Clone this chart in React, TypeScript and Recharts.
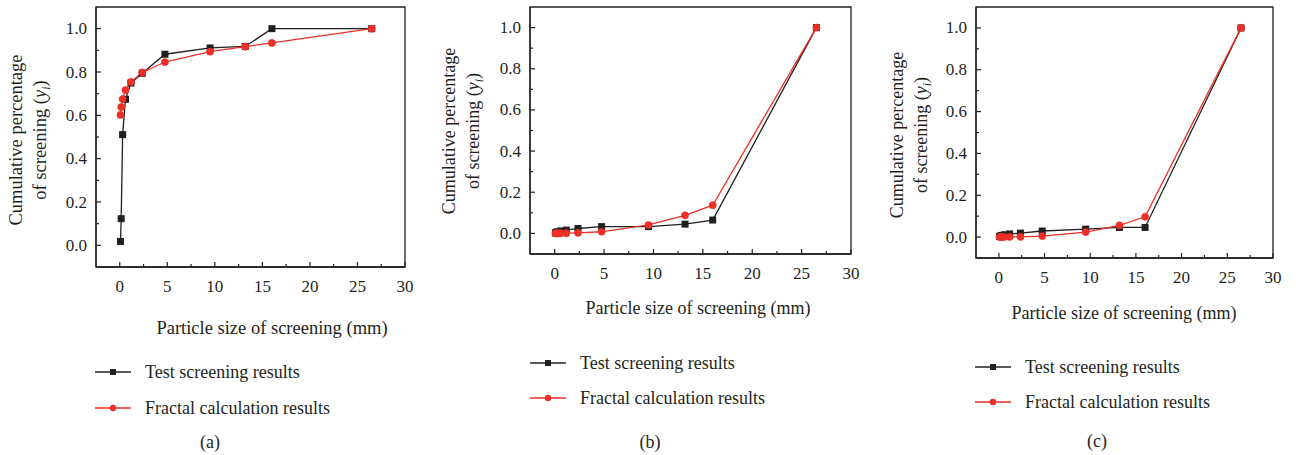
import React from 'react';
import { LineChart, Line, XAxis, YAxis, ReferenceArea } from 'recharts';

const sieveSizes = [0.075, 0.15, 0.3, 0.6, 1.18, 2.36, 4.75, 9.5, 13.2, 16, 26.5];

const testA = [0.018, 0.123, 0.511, 0.674, 0.749, 0.794, 0.882, 0.911, 0.918, 1.0, 1.0];
const fractalA = [0.602, 0.638, 0.675, 0.717, 0.754, 0.798, 0.846, 0.894, 0.917, 0.934, 1.0];
const testB = [0.002, 0.005, 0.008, 0.012, 0.016, 0.024, 0.033, 0.033, 0.045, 0.065, 1.0];
const fractalB = [0.0, 0.0, 0.0, 0.001, 0.001, 0.003, 0.008, 0.041, 0.088, 0.137, 1.0];
const testC = [0.003, 0.005, 0.008, 0.011, 0.015, 0.019, 0.029, 0.038, 0.046, 0.046, 1.0];
const fractalC = [0.0, 0.0, 0.0, 0.0, 0.001, 0.001, 0.005, 0.024, 0.056, 0.097, 1.0];

const xTicks = [0, 2.5, 5, 7.5, 10, 12.5, 15, 17.5, 20, 22.5, 25, 27.5, 30];
const yTicks = [0, 0.1, 0.2, 0.3, 0.4, 0.5, 0.6, 0.7, 0.8, 0.9, 1.0];
const seriesNames = ['Test screening results', 'Fractal calculation results'];
const captions = ['(a)', '(b)', '(c)'];

const BLACK = '#231f20';
const RED = '#ec2f27';
const FONT = '"Liberation Serif", "DejaVu Serif", serif';

const toPoints = (ys: number[]) => sieveSizes.map((x, i) => ({ x, y: ys[i] }));

// layout per panel (page px)
const panels = [
    { test: testA, fractal: fractalA, plot: [96, 405, 7, 267], title: [272, 328], titleFont: 18.5, yTitle: [22, 46, 140], yFont: 18.5, legend: [95, 372, 408], cap: [210, 442] },
    { test: testB, fractal: fractalB, plot: [530, 851, 7, 254], title: [698, 308], titleFont: 18, yTitle: [455, 479, 131], yFont: 18, legend: [530, 363, 398], cap: [650, 442] },
    { test: testC, fractal: fractalC, plot: [976, 1273, 7, 258], title: [1124, 313], titleFont: 18, yTitle: [903, 927, 135], yFont: 18, legend: [975, 367, 402], cap: [1097, 441] },
];

const XTick = (props: any) => {
    const { x, y, payload } = props;
    const major = payload.value % 5 === 0;
    return (
        <g>
            <line x1={x} x2={x} y1={y} y2={y - (major ? 5 : 3)} stroke={BLACK} strokeWidth={1.2} />
            {major && (
                <text x={x} y={y + 19} textAnchor="middle" dominantBaseline="central" fontSize={17} fontFamily={FONT} fill={BLACK}>
                    {payload.value}
                </text>
            )}
        </g>
    );
};

const YTick = (props: any) => {
    const { x, y, payload } = props;
    const major = Math.round(payload.value * 10) % 2 === 0;
    return (
        <g>
            <line x1={x} x2={x + (major ? 5 : 3)} y1={y} y2={y} stroke={BLACK} strokeWidth={1.2} />
            {major && (
                <text x={x - 9} y={y} textAnchor="end" dominantBaseline="central" fontSize={17} fontFamily={FONT} fill={BLACK}>
                    {payload.value.toFixed(1)}
                </text>
            )}
        </g>
    );
};

const SquareDot = (props: any) => {
    const { cx, cy, index } = props;
    if (cx == null || cy == null) return null;
    return <rect key={`sq-${index}`} x={cx - 3.5} y={cy - 3.5} width={7} height={7} fill={BLACK} />;
};

const Panel = ({ cfg }: { cfg: typeof panels[number] }) => {
    const [pl, pr, pt, pb] = cfg.plot;
    const L = pl - 96;
    const W = pr + 15 - L;
    const H = 345;
    const [b1, b2, cy] = cfg.yTitle;
    return (
        <div style={{ position: 'absolute', left: L, top: 0 }}>
            <LineChart width={W} height={H} margin={{ top: pt, left: 56, right: 15, bottom: H - pb - 30 }}>
                <XAxis
                    dataKey="x"
                    type="number"
                    domain={[-2.5, 30]}
                    ticks={xTicks}
                    interval={0}
                    allowDataOverflow
                    height={30}
                    tickSize={0}
                    tickMargin={0}
                    tickLine={false}
                    tick={<XTick />}
                    axisLine={{ stroke: BLACK, strokeWidth: 1.3 }}
                />
                <YAxis
                    type="number"
                    domain={[-0.1, 1.1]}
                    ticks={yTicks}
                    interval={0}
                    allowDataOverflow
                    width={40}
                    tickSize={0}
                    tickMargin={0}
                    tickLine={false}
                    tick={<YTick />}
                    axisLine={{ stroke: BLACK, strokeWidth: 1.3 }}
                />
                <ReferenceArea x1={-2.5} x2={30} y1={-0.1} y2={1.1} fill="none" stroke={BLACK} strokeWidth={1.3} ifOverflow="visible" />
                <Line data={toPoints(cfg.test)} dataKey="y" stroke={BLACK} strokeWidth={1.3} dot={<SquareDot />} isAnimationActive={false} />
                <Line data={toPoints(cfg.fractal)} dataKey="y" stroke={RED} strokeWidth={1.3} dot={{ r: 3.6, fill: RED, stroke: RED, strokeWidth: 0.5 }} isAnimationActive={false} />
                <text x={cfg.title[0] - L} y={cfg.title[1]} textAnchor="middle" dominantBaseline="central" fontSize={cfg.titleFont} fontFamily={FONT} fill={BLACK}>
                    Particle size of screening (mm)
                </text>
                <g fontSize={cfg.yFont} fontFamily={FONT} fill={BLACK}>
                    <text transform={`translate(${b1 - L},${cy}) rotate(-90)`} textAnchor="middle">Cumulative percentage</text>
                    <text transform={`translate(${b2 - L},${cy}) rotate(-90)`} textAnchor="middle">
                        of screening (<tspan fontStyle="italic">y</tspan>
                        <tspan fontStyle="italic" fontSize={cfg.yFont * 0.65} dy={4}>i</tspan>
                        <tspan dy={-4}>)</tspan>
                    </text>
                </g>
            </LineChart>
        </div>
    );
};

const LegendBlock = ({ cfg, idx }: { cfg: typeof panels[number]; idx: number }) => {
    const [lx, y1, y2] = cfg.legend;
    const rows = [
        { name: seriesNames[0], color: BLACK, y: y1, square: true },
        { name: seriesNames[1], color: RED, y: y2, square: false },
    ];
    return (
        <svg style={{ position: 'absolute', left: 0, top: 0 }} width={1296} height={455} pointerEvents="none">
            {rows.map((r) => (
                <g key={r.name}>
                    <line x1={lx} x2={lx + 36} y1={r.y} y2={r.y} stroke={r.color} strokeWidth={1.3} />
                    {r.square
                        ? <rect x={lx + 15} y={r.y - 3} width={6} height={6} fill={r.color} />
                        : <circle cx={lx + 18} cy={r.y} r={3.2} fill={r.color} />}
                    <text x={lx + 50} y={r.y} dominantBaseline="central" fontSize={18} fontFamily={FONT} fill={BLACK}>{r.name}</text>
                </g>
            ))}
            <text x={cfg.cap[0]} y={cfg.cap[1]} textAnchor="middle" dominantBaseline="central" fontSize={18} fontFamily={FONT} fill={BLACK}>
                {captions[idx]}
            </text>
        </svg>
    );
};

export default function App() {
    return (
        <div style={{ position: 'absolute', left: 0, top: 0, width: 1296, height: 455, background: '#fff', overflow: 'hidden' }}>
            {panels.map((p, i) => (
                <React.Fragment key={i}>
                    <Panel cfg={p} />
                    <LegendBlock cfg={p} idx={i} />
                </React.Fragment>
            ))}
        </div>
    );
}
